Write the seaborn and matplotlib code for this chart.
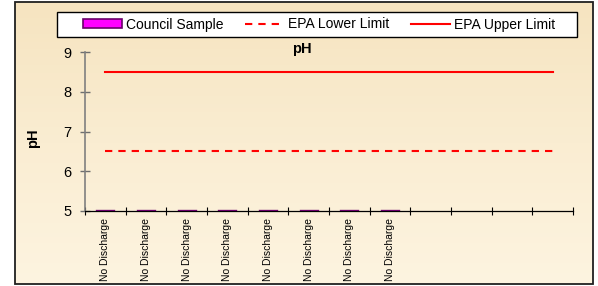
import numpy as np
import pandas as pd
import matplotlib
matplotlib.use("Agg")
import matplotlib.pyplot as plt
from matplotlib.patches import Rectangle, Patch
from matplotlib.lines import Line2D
from matplotlib.colors import LinearSegmentedColormap
import seaborn as sns

# ---------------- data ----------------
categories = ["S1", "S2", "S3", "S4", "S5", "S6", "S7", "S8", "S9", "S10", "S11", "S12"]
tick_labels = ["No Discharge"] * 8 + [""] * 4
council_sample = [5, 5, 5, 5, 5, 5, 5, 5, np.nan, np.nan, np.nan, np.nan]
epa_lower = [6.5] * 12
epa_upper = [8.5] * 12
y_ticks = [5, 6, 7, 8, 9]

df = pd.DataFrame({"cat": categories, "council": council_sample,
                   "lower": epa_lower, "upper": epa_upper})

plt.rcParams["font.family"] = ["Liberation Sans", "DejaVu Sans"]

W, H = 598, 286
fig = plt.figure(figsize=(W / 100, H / 100), dpi=100, facecolor="white")


def fx(px):
    return px / W


def fy(py):
    return 1 - py / H


# parchment background inside the chart border
bx0, by0, bx1, by1 = 15, 2, 593, 284
bg = fig.add_axes([fx(bx0), fy(by1), fx(bx1) - fx(bx0), fy(by0) - fy(by1)], zorder=-10)
cmap = LinearSegmentedColormap.from_list("parch", ["#F6E4C0", "#FAEDD2", "#FDF4E0"])
grad = np.linspace(0, 1, 256).reshape(-1, 1)
bg.imshow(grad, aspect="auto", cmap=cmap, extent=[0, 1, 0, 1], origin="upper")
bg.set_axis_off()

ax = fig.add_axes([fx(85), fy(211), fx(573) - fx(85), fy(52) - fy(211)])
ax.set_facecolor("none")

dash = (0, (3.5, 2.9))

sns.barplot(data=df, x="cat", y="council", order=categories, ax=ax,
            color="#FF00FF", edgecolor="#6A006A", linewidth=2.4, width=0.4,
            saturation=1)
for p in ax.patches:
    p.set_zorder(3)

sns.lineplot(data=df, x="cat", y="lower", ax=ax, color="#FF0000",
             linewidth=1.5, linestyle=dash, sort=False)
sns.lineplot(data=df, x="cat", y="upper", ax=ax, color="#FF0000",
             linewidth=1.5, sort=False)

ax.set_xlim(-0.5, len(categories) - 0.5)
ax.set_ylim(5, 9)
ax.set_yticks(y_ticks)
ax.set_yticklabels([str(t) for t in y_ticks], fontsize=10.5)

n = len(categories)
ax.set_xticks(np.arange(n + 1) - 0.5)
ax.set_xticklabels([""] * (n + 1))
ax.set_xticks(np.arange(n), minor=True)
ax.set_xticklabels(tick_labels, minor=True, rotation=90, fontsize=7.5, va="top")
ax.tick_params(axis="x", which="major", direction="inout", length=6, width=0.8, color="black")
ax.tick_params(axis="x", which="minor", length=0, pad=5)
ax.tick_params(axis="y", direction="inout", length=7, width=1.0, color="#6E6E6E", pad=6)

ax.set_xlabel("")
ax.set_ylabel("")
for s in ["top", "right"]:
    ax.spines[s].set_visible(False)
ax.spines["left"].set_color("#808080")
ax.spines["left"].set_linewidth(1.2)
ax.spines["bottom"].set_color("black")
ax.spines["bottom"].set_linewidth(0.9)

# titles
fig.text(fx(302), fy(49), "pH", ha="center", va="center", fontsize=10.5, fontweight="bold")
fig.text(fx(33), fy(138), "pH", ha="center", va="center", fontsize=10.5,
         fontweight="bold", rotation=90)

# legend box
fig.add_artist(Rectangle((fx(57), fy(37)), fx(577) - fx(57), fy(12) - fy(37),
                         transform=fig.transFigure, facecolor="white",
                         edgecolor="black", linewidth=1.0, zorder=5))
handles = [Patch(facecolor="#FF00FF", edgecolor="#6A006A", linewidth=1.2),
           Line2D([], [], color="#FF0000", linewidth=1.5, linestyle=dash),
           Line2D([], [], color="#FF0000", linewidth=1.5)]
labels = ["Council Sample", "EPA Lower Limit", "EPA Upper Limit"]
leg = fig.legend(handles, labels, loc="center", bbox_to_anchor=(fx(319), fy(24.5)),
                 ncol=3, frameon=False, fontsize=10, handlelength=2.85,
                 handleheight=0.6, handletextpad=0.3, columnspacing=1.5)
leg.set_zorder(6)

# outer border
fig.add_artist(Rectangle((fx(bx0), fy(by1)), fx(bx1) - fx(bx0), fy(by0) - fy(by1),
                         transform=fig.transFigure, fill=False,
                         edgecolor="#202020", linewidth=1.3, zorder=7))

fig.savefig("out.png", dpi=100, facecolor="white")
